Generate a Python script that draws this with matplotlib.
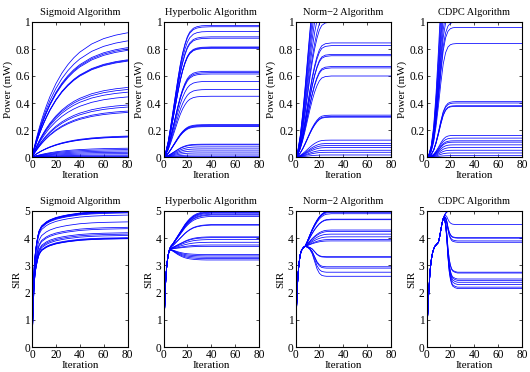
import numpy as np
import matplotlib.pyplot as plt
from matplotlib.ticker import FuncFormatter

plt.rcParams['font.family'] = ['Liberation Serif', 'DejaVu Serif']
plt.rcParams['font.size'] = 7.9

titles = ['Sigmoid Algorithm', 'Hyperbolic Algorithm', 'Norm\u22122 Algorithm', 'CDPC Algorithm']

# ---- power panels: final power of each user and the shared rise profile ----
sig_p_final = [0.92, 0.86, 0.81, 0.80, 0.79, 0.72, 0.715, 0.71, 0.515, 0.50, 0.48, 0.445,
               0.385, 0.37, 0.34, 0.33, 0.155, 0.15, 0.148, 0.065, 0.055, 0.045, 0.035,
               0.025, 0.015, 0.008, 0.003]
sig_p_t = [0, 2, 4, 6, 8, 10, 12, 15, 20, 25, 30, 35, 40, 50, 60, 70, 80]
sig_p_shape = [0, 0.084, 0.161, 0.232, 0.297, 0.356, 0.411, 0.486, 0.590, 0.675, 0.743,
               0.799, 0.844, 0.910, 0.953, 0.981, 1.0]

hyp_p_final = [0.975, 0.965, 0.93, 0.89, 0.88, 0.815, 0.81, 0.805, 0.635, 0.625, 0.615,
               0.56, 0.50, 0.45, 0.24, 0.235, 0.23, 0.225, 0.095, 0.09, 0.075, 0.06,
               0.045, 0.03, 0.015, 0.005]
hyp_p_t = [0, 2, 4, 6, 8, 10, 12, 14, 16, 18, 20, 22, 25, 28, 32, 40, 60, 80]
hyp_p_shape = [0, 0.04, 0.12, 0.23, 0.35, 0.47, 0.59, 0.70, 0.79, 0.86, 0.915, 0.95,
               0.978, 0.99, 0.997, 1.0, 1.0, 1.0]

n2_p_final = [1.6, 1.55, 1.45, 1.35, 1.25, 1.15, 1.05, 1.0, 0.845, 0.825, 0.76, 0.75,
              0.67, 0.66, 0.60, 0.31, 0.30, 0.295, 0.125, 0.10, 0.085, 0.07, 0.05,
              0.035, 0.015]
n2_p_t = [0, 2, 4, 6, 8, 10, 12, 14, 16, 18, 20, 22, 25, 30, 40, 80]
n2_p_shape = [0, 0.03, 0.10, 0.20, 0.32, 0.45, 0.58, 0.70, 0.80, 0.88, 0.94, 0.975,
              0.993, 1.0, 1.0, 1.0]

cd_p_final = [1.75, 1.6, 1.45, 1.35, 1.25, 1.15, 1.08, 1.0, 0.96, 0.84, 0.41, 0.40,
              0.38, 0.375, 0.16, 0.14, 0.12, 0.11, 0.09, 0.07, 0.05, 0.03, 0.01]
cd_p_t = [0, 2, 4, 6, 8, 10, 12, 14, 16, 18, 20, 22, 25, 30, 80]
cd_p_shape = [0, 0.01, 0.05, 0.13, 0.27, 0.45, 0.65, 0.82, 0.92, 0.97, 0.99, 0.997,
              1.0, 1.0, 1.0]

# ---- SIR panels ----
sig_s_final = [5.0, 4.99, 4.98, 4.97, 4.95, 4.93, 4.85, 4.6, 4.4, 4.35, 4.2, 4.15, 4.1,
               4.02, 4.0, 3.99, 3.98]
sig_s_t = [0, 1, 2, 3, 4, 5, 6, 8, 10, 12, 15, 20, 25, 30, 40, 50, 60, 70, 80]
sig_s_shape = [0, 0.38, 0.61, 0.71, 0.77, 0.82, 0.855, 0.89, 0.905, 0.92, 0.935, 0.952,
               0.963, 0.972, 0.985, 0.992, 0.996, 0.998, 1.0]

hyp_s_final = [5.0, 4.97, 4.95, 4.92, 4.88, 4.85, 4.8, 4.5, 4.48, 4.05, 4.02, 3.95, 3.85,
               3.75, 3.7, 3.4, 3.35, 3.3, 3.25, 3.2]
hyp_s_t = [0, 1, 2, 3, 4, 5, 6, 8, 10, 12, 14, 16, 18, 20, 22, 25, 28, 32, 36, 40, 60, 80]
hyp_s_common = [0, 1.5, 2.6, 3.1, 3.4, 3.55, 3.6, 3.6, 3.6, 3.6, 3.6, 3.6, 3.6, 3.6, 3.6,
                3.6, 3.6, 3.6, 3.6, 3.6, 3.6, 3.6]
hyp_s_up = [0, 0, 0, 0, 0, 0.03, 0.07, 0.15, 0.25, 0.35, 0.45, 0.55, 0.65, 0.73, 0.8,
            0.88, 0.93, 0.97, 0.99, 1.0, 1.0, 1.0]
hyp_s_down = [0, 0, 0, 0, 0, 0.03, 0.08, 0.2, 0.35, 0.5, 0.62, 0.72, 0.8, 0.86, 0.9,
              0.94, 0.97, 0.99, 1.0, 1.0, 1.0, 1.0]

n2_s_final = [5.0, 4.99, 4.98, 4.95, 4.9, 4.7, 4.68, 4.3, 4.25, 4.15, 4.05, 3.95, 3.9,
              3.32, 3.3, 2.95, 2.9, 2.75, 2.6]
n2_s_t = [0, 1, 2, 3, 4, 5, 6, 7, 8, 10, 12, 14, 16, 18, 20, 22, 24, 26, 30, 40, 80]
n2_s_common = [0, 1.6, 2.6, 3.1, 3.4, 3.55, 3.62, 3.67, 3.7, 3.7, 3.7, 3.7, 3.7, 3.7,
               3.7, 3.7, 3.7, 3.7, 3.7, 3.7, 3.7]
n2_s_up = [0, 0, 0, 0, 0, 0, 0, 0, 0, 0.15, 0.32, 0.48, 0.62, 0.74, 0.84, 0.91, 0.96,
           0.985, 1.0, 1.0, 1.0]
n2_s_down = [0, 0, 0, 0, 0, 0, 0, 0, 0, 0.03, 0.1, 0.25, 0.5, 0.75, 0.9, 0.97, 0.99,
             1.0, 1.0, 1.0, 1.0]

cd_s_final = [5.0, 4.99, 4.98, 4.5, 4.02, 4.0, 3.9, 3.85, 2.75, 2.72, 2.5, 2.45, 2.38,
              2.3, 2.2, 2.15]
cd_s_t = [0, 1, 2, 3, 4, 5, 6, 7, 8, 9, 10, 11, 12, 13, 14, 15, 16, 17, 18, 19, 20, 21,
          22, 24, 26, 30, 40, 80]
cd_s_common = [0, 1.2, 2.1, 2.8, 3.2, 3.45, 3.6, 3.7, 3.75, 3.8, 3.85, 4.05, 4.3, 4.55,
               4.72, 4.83, 4.9, 4.95, 4.98, 5.0, 5.0, 5.0, 5.0, 5.0, 5.0, 5.0, 5.0, 5.0]
cd_s_blend = [0, 0, 0, 0, 0, 0, 0, 0, 0, 0, 0, 0, 0, 0, 0, 0.05, 0.15, 0.35, 0.6, 0.78,
              0.88, 0.94, 0.97, 0.99, 1.0, 1.0, 1.0, 1.0]


def fmt(v, pos):
    return '%g' % v


def setup_axes(ax, title, ylabel, ymax, yticks):
    ax.set_xlim(0, 80)
    ax.set_ylim(0, ymax)
    ax.set_xticks([0, 20, 40, 60, 80])
    ax.set_yticks(yticks)
    ax.yaxis.set_major_formatter(FuncFormatter(fmt))
    ax.tick_params(direction='in', length=2.5, width=0.5, top=True, right=True, pad=1.5,
                   labelsize=8.3)
    for s in ax.spines.values():
        s.set_linewidth(0.8)
    ax.set_title(title, pad=5, fontsize=7.5)
    ax.set_xlabel('Iteration', labelpad=0)
    ax.set_ylabel(ylabel, labelpad=2)


def plot_power(ax, finals, t, shape):
    shape = np.array(shape)
    for f in finals:
        ax.plot(t, f * shape, color='#0000ff', lw=0.55)


def plot_sir(ax, finals, t, common, up, down):
    common = np.array(common)
    up = np.array(up)
    down = np.array(down)
    for f in finals:
        b = up if f >= common[-1] else down
        ax.plot(t, common * (1 - b) + f * b, color='#0000ff', lw=0.55)


fig = plt.figure(figsize=(5.3, 3.72), dpi=100)
lefts = [32 / 530, 163.5 / 530, 295.5 / 530, 426.5 / 530]
w = 95.5 / 530

power_data = [(sig_p_final, sig_p_t, sig_p_shape),
              (hyp_p_final, hyp_p_t, hyp_p_shape),
              (n2_p_final, n2_p_t, n2_p_shape),
              (cd_p_final, cd_p_t, cd_p_shape)]

for i in range(4):
    ax = fig.add_axes([lefts[i], 1 - 157 / 372, w, 135 / 372])
    finals, t, shape = power_data[i]
    plot_power(ax, finals, t, shape)
    setup_axes(ax, titles[i], 'Power (mW)', 1, [0, 0.2, 0.4, 0.6, 0.8, 1])

# sigmoid SIR is a plain scaled profile, the others blend a common path into the final value
ax = fig.add_axes([lefts[0], 1 - 347 / 372, w, 136 / 372])
for f in sig_s_final:
    ax.plot(sig_s_t, f * np.array(sig_s_shape), color='#0000ff', lw=0.55)
setup_axes(ax, titles[0], 'SIR', 5, [0, 1, 2, 3, 4, 5])

sir_data = [(hyp_s_final, hyp_s_t, hyp_s_common, hyp_s_up, hyp_s_down),
            (n2_s_final, n2_s_t, n2_s_common, n2_s_up, n2_s_down),
            (cd_s_final, cd_s_t, cd_s_common, cd_s_blend, cd_s_blend)]

for i in range(3):
    ax = fig.add_axes([lefts[i + 1], 1 - 347 / 372, w, 136 / 372])
    finals, t, common, up, down = sir_data[i]
    plot_sir(ax, finals, t, common, up, down)
    setup_axes(ax, titles[i + 1], 'SIR', 5, [0, 1, 2, 3, 4, 5])

fig.savefig('out.png', dpi=100)
